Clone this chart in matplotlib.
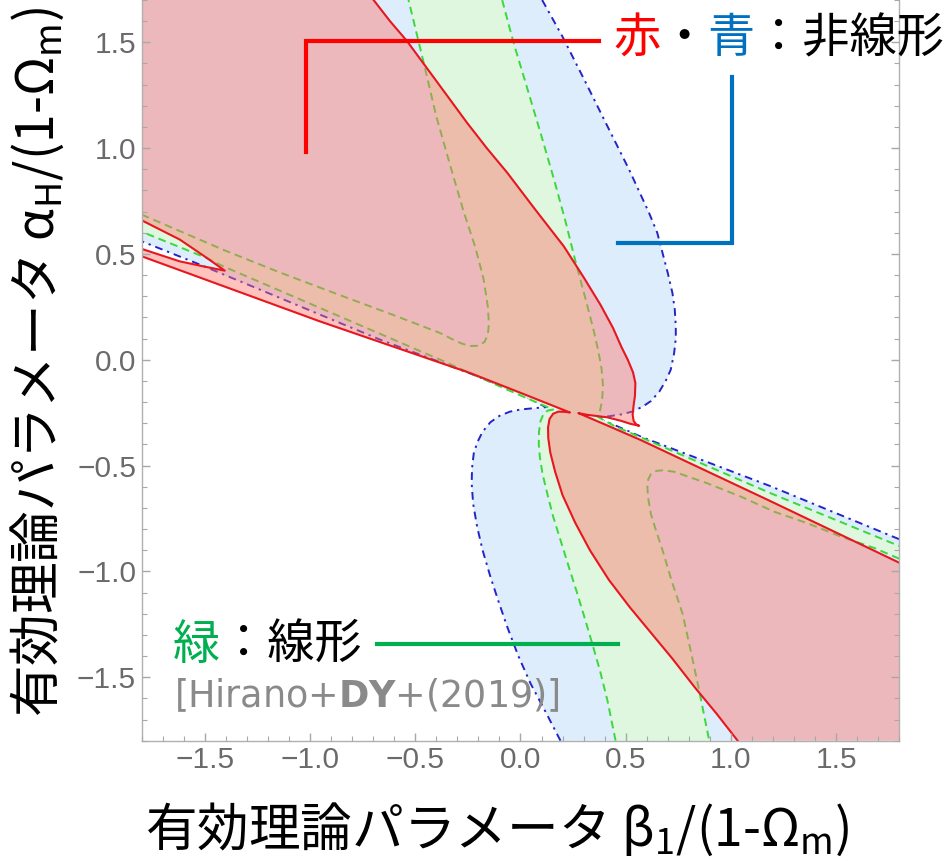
import numpy as np
import matplotlib
matplotlib.use("Agg")
import matplotlib.pyplot as plt
from matplotlib.patches import Polygon

plt.rcParams['font.family'] = ['Noto Sans CJK JP', 'DejaVu Sans']

# plot window (beta_1, alpha_H)
x_range = (-1.8, 1.8)
y_range = (-1.8, 1.7)

# --- boundary curves ---
# blue (nonlinear, wide)
blue_upper_right = np.array([[0.103, 1.70], [0.198, 1.530], [0.310, 1.310], [0.421, 1.088], [0.516, 0.899],
                             [0.611, 0.694], [0.65, 0.60], [0.675, 0.505], [0.70, 0.41], [0.722, 0.316],
                             [0.733, 0.24], [0.738, 0.158], [0.738, 0.10], [0.73, 0.03], [0.714, -0.047],
                             [0.69, -0.10], [0.66, -0.15], [0.62, -0.195], [0.58, -0.222], [0.53, -0.245],
                             [0.48, -0.258], [0.42, -0.267], [0.36, -0.275]])
blue_lower_right = np.array([[0.36, -0.275], [0.45, -0.310], [0.571, -0.363], [1.19, -0.598], [1.80, -0.848]])
blue_lower_left = np.array([[0.19, -1.80], [0.12, -1.665], [0.048, -1.530], [-0.01, -1.40], [-0.063, -1.262],
                            [-0.105, -1.14], [-0.143, -1.025], [-0.18, -0.90], [-0.206, -0.789], [-0.225, -0.68],
                            [-0.232, -0.584], [-0.230, -0.51], [-0.222, -0.442], [-0.205, -0.39], [-0.18, -0.34],
                            [-0.143, -0.295], [-0.10, -0.265], [-0.05, -0.245], [0.0, -0.235], [0.06, -0.229],
                            [0.12, -0.224]])
blue_upper_left = np.array([[0.12, -0.224], [0.0, -0.160], [-0.238, -0.065], [-0.667, 0.095], [-1.524, 0.45],
                            [-1.80, 0.56]])

# green (linear) outer edge and the two holes
green_upper_right = np.array([[-0.087, 1.70], [-0.032, 1.495], [0.024, 1.31], [0.095, 1.073], [0.16, 0.85],
                              [0.215, 0.65], [0.26, 0.47], [0.310, 0.284], [0.345, 0.15], [0.370, 0.04],
                              [0.385, -0.04], [0.392, -0.12], [0.388, -0.19], [0.378, -0.24], [0.365, -0.268]])
green_lower_right = np.array([[0.365, -0.268], [0.45, -0.315], [0.571, -0.366], [1.19, -0.631], [1.80, -0.88]])
green_hole_lower = np.array([[1.80, -0.94], [1.683, -0.89], [1.524, -0.836], [1.365, -0.773], [1.206, -0.718],
                             [1.048, -0.647], [0.889, -0.584], [0.730, -0.529], [0.68, -0.522], [0.645, -0.525],
                             [0.62, -0.54], [0.607, -0.565], [0.603, -0.60], [0.606, -0.65], [0.62, -0.73],
                             [0.645, -0.81], [0.675, -0.90], [0.72, -1.05], [0.770, -1.199], [0.81, -1.38],
                             [0.849, -1.562], [0.897, -1.80]])
green_lower_left = np.array([[0.452, -1.80], [0.413, -1.609], [0.378, -1.47], [0.341, -1.341], [0.305, -1.22],
                             [0.270, -1.105], [0.23, -0.98], [0.190, -0.852], [0.155, -0.74], [0.127, -0.631],
                             [0.105, -0.54], [0.092, -0.46], [0.087, -0.40], [0.088, -0.34], [0.095, -0.29],
                             [0.11, -0.255], [0.13, -0.24], [0.155, -0.235]])
green_upper_left = np.array([[0.155, -0.235], [0.05, -0.19], [-0.1, -0.125], [-0.381, 0.0], [-0.857, 0.204],
                             [-1.413, 0.442], [-1.492, 0.481], [-1.80, 0.605]])
green_hole_upper = np.array([[-1.80, 0.686], [-1.60, 0.60], [-1.413, 0.52], [-1.15, 0.415], [-0.857, 0.305],
                             [-0.60, 0.21], [-0.381, 0.126], [-0.33, 0.10], [-0.28, 0.077], [-0.24, 0.065],
                             [-0.20, 0.066], [-0.17, 0.085], [-0.155, 0.12], [-0.150, 0.17], [-0.155, 0.25],
                             [-0.175, 0.38], [-0.214, 0.53], [-0.27, 0.70], [-0.333, 0.915], [-0.40, 1.15],
                             [-0.46, 1.404], [-0.532, 1.70]])

# red (nonlinear)
red_upper_right = np.array([[-0.698, 1.70], [-0.62, 1.60], [-0.540, 1.507], [-0.452, 1.388], [-0.35, 1.25],
                            [-0.254, 1.120], [-0.16, 1.00], [-0.063, 0.884], [0.07, 0.71], [0.206, 0.536],
                            [0.30, 0.39], [0.38, 0.26], [0.44, 0.15], [0.48, 0.06], [0.51, 0.0], [0.535, -0.06],
                            [0.546, -0.11], [0.544, -0.17], [0.537, -0.22], [0.533, -0.26], [0.538, -0.29],
                            [0.55, -0.305], [0.564, -0.312], [0.52, -0.302], [0.476, -0.288], [0.413, -0.272],
                            [0.317, -0.26], [0.275, -0.252]])
red_lower_right = np.array([[0.275, -0.252], [0.40, -0.305], [0.571, -0.379], [1.19, -0.669], [1.80, -0.959]])
red_lower_left = np.array([[1.032, -1.80], [0.93, -1.67], [0.83, -1.55], [0.72, -1.41], [0.62, -1.29],
                           [0.52, -1.17], [0.42, -1.04], [0.33, -0.90], [0.26, -0.77], [0.20, -0.64],
                           [0.165, -0.53], [0.142, -0.44], [0.132, -0.37], [0.131, -0.32], [0.138, -0.28],
                           [0.155, -0.255], [0.18, -0.245], [0.21, -0.246], [0.235, -0.249]])
red_upper_left = np.array([[0.235, -0.249], [0.0, -0.156], [-0.238, -0.063], [-0.952, 0.181], [-1.80, 0.489]])
red_notch = np.array([[-1.80, 0.524], [-1.619, 0.465], [-1.50, 0.440], [-1.405, 0.421], [-1.49, 0.481],
                      [-1.619, 0.568], [-1.80, 0.659]])

# callout lines (data coords)
red_callout = np.array([[-1.02, 0.98], [-1.02, 1.506], [0.371, 1.506]])
blue_callout = np.array([[0.462, 0.554], [1.003, 0.554], [1.003, 1.335]])
green_callout = np.array([[-0.682, -1.341], [0.462, -1.341]])

fig = plt.figure(figsize=(9.49, 8.61), dpi=100)
ax = fig.add_axes([0.1493, 0.1397, 0.7983, 0.8603])
x0, x1 = x_range
y0, y1 = y_range

blue_poly = np.vstack([[[x0, y1]], blue_upper_right, blue_lower_right, [[x1, y0]],
                       blue_lower_left, blue_upper_left])
green_poly = np.vstack([green_upper_right, green_lower_right, green_hole_lower,
                        green_lower_left, green_upper_left, green_hole_upper])
red_poly = np.vstack([[[x0, y1]], red_upper_right, red_lower_right, [[x1, y0]],
                      red_lower_left, red_upper_left, red_notch])

ax.add_patch(Polygon(blue_poly, closed=True, facecolor='#ddedfb', edgecolor='none', zorder=1.0))
blue_style = dict(color='#2424c8', lw=1.4, ls=(0, (4, 2.5, 1.2, 2.5)), zorder=1.1)
for c in (np.vstack([blue_upper_right, blue_lower_right]), np.vstack([blue_lower_left, blue_upper_left])):
    ax.plot(c[:, 0], c[:, 1], **blue_style)

ax.add_patch(Polygon(green_poly, closed=True, facecolor='#dff7df', edgecolor='none', zorder=1.2))
green_style = dict(color='#3ad83a', lw=1.4, ls=(0, (4, 2.5)), zorder=1.3)
for c in (np.vstack([green_upper_right, green_lower_right]), np.vstack([green_lower_left, green_upper_left]),
          green_hole_upper, green_hole_lower):
    ax.plot(c[:, 0], c[:, 1], **green_style)

ax.add_patch(Polygon(red_poly, closed=True, facecolor='#ff786e', alpha=0.45, edgecolor='none', zorder=1.4))
red_style = dict(color='#e8161e', lw=1.5, zorder=1.5)
for c in (np.vstack([red_upper_right, red_lower_right]), np.vstack([red_lower_left, red_upper_left]), red_notch):
    ax.plot(c[:, 0], c[:, 1], **red_style)

ax.set_xlim(x_range)
ax.set_ylim(y_range)
ax.set_axisbelow(False)

# axes look
ax.set_xticks(np.arange(-1.5, 1.51, 0.5))
ax.set_yticks(np.arange(-1.5, 1.51, 0.5))
ax.set_xticks(np.arange(-1.8, 1.81, 0.1), minor=True)
ax.set_yticks(np.arange(-1.8, 1.71, 0.1), minor=True)
ax.tick_params(which='both', direction='in', right=True, top=False, color='#a8a8a8',
               labelcolor='#6a6a6a', labelsize=21.5, pad=4)
ax.tick_params(which='major', length=6, width=1)
ax.tick_params(which='minor', length=3.5, width=0.8)
for lab in ax.get_xticklabels() + ax.get_yticklabels():
    lab.set_fontfamily('Liberation Sans')
ax.spines['top'].set_visible(False)
for s in ('left', 'right', 'bottom'):
    ax.spines[s].set_color('#b0b0b0')
    ax.spines[s].set_linewidth(1)

ax.set_xlabel('有効理論パラメータ $\\mathregular{β_1}$/(1-$\\mathregular{Ω_m}$)', fontsize=37.2, va='center')
ax.xaxis.set_label_coords(0.469, -0.119)
ax.set_ylabel('有効理論パラメータ $\\mathregular{α_H}$/(1-$\\mathregular{Ω_m}$)', fontsize=37.2, va='center')
ax.yaxis.set_label_coords(-0.1375, 0.512)

# callouts
ax.plot(red_callout[:, 0], red_callout[:, 1], color='#ff0000', lw=3, solid_joinstyle='miter', zorder=4, clip_on=False)
ax.plot(blue_callout[:, 0], blue_callout[:, 1], color='#0070c0', lw=3, solid_joinstyle='miter', zorder=4, clip_on=False)
ax.plot(green_callout[:, 0], green_callout[:, 1], color='#00b050', lw=3, zorder=4, clip_on=False)

W, H = 949, 861
em = 34 * 100 / 72  # full-width advance in px


def cjk_row(x_px, y_px, pieces, size=34):
    k = 0
    for s, col in pieces:
        fig.text((x_px + k * em) / W, 1 - y_px / H, s, color=col, fontsize=size,
                 ha='left', va='baseline')
        k += len(s)


cjk_row(613, 52, [('赤', '#ff0000'), ('・', 'black'), ('青', '#0070c0'), ('：非線形', 'black')])
cjk_row(173, 659, [('緑', '#00b050'), ('：線形', 'black')])
fig.text(174 / W, 1 - 707 / H, '[Hirano+$\\mathbf{DY}$+(2019)]', color='#8a8a8a', fontsize=26.3,
         fontfamily='DejaVu Sans', ha='left', va='baseline')

fig.savefig('out.png', dpi=100)
